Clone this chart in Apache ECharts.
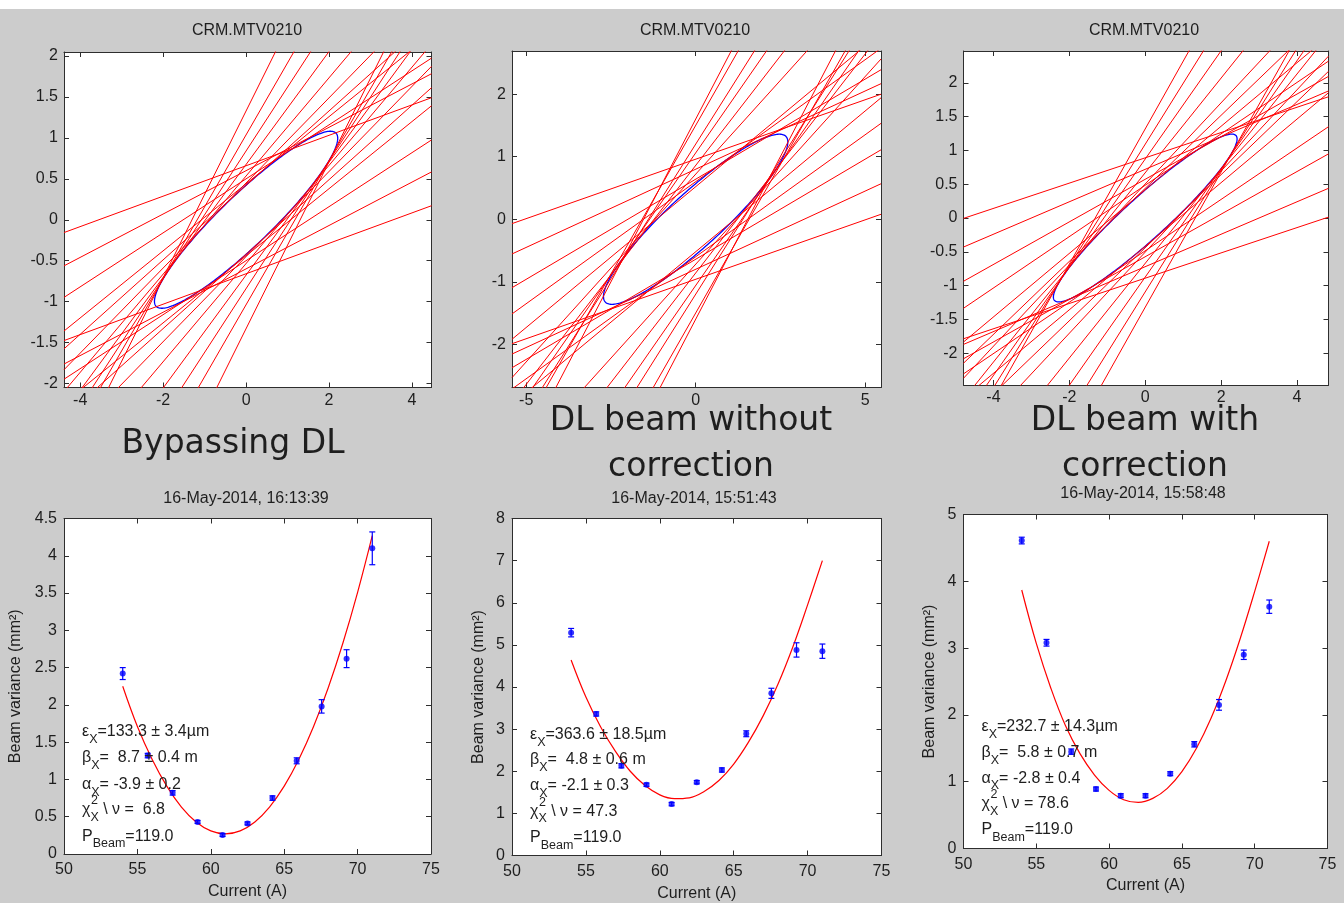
<!DOCTYPE html>
<html>
<head>
<meta charset="utf-8">
<title>Quadrupole scan - phase space</title>
<script src="https://cdn.jsdelivr.net/npm/echarts@6/dist/echarts.min.js"></script>
<style>
  html, body { margin: 0; padding: 0; background: #cccccc; }
  #main { width: 1344px; height: 903px; }
</style>
</head>
<body>
<div id="main"></div>
<script>
// phase space: slope / offset of each measurement line pair, fitted beam matrix [s11, s12, s22]
const slopesBypass = [0.186, 0.265, 0.33, 0.41, 0.455, 0.52, 0.60, 0.69, 0.78, 0.88, 1.02];
const offsetsBypass = [0.66, 0.60, 0.50, 0.44, 0.42, 0.45, 0.535, 0.676, 0.841, 1.038, 1.33];
const sigmaBypass = [4.88, 2.2, 1.17];

const slopesNoCorr = [0.19, 0.25, 0.32, 0.39, 0.45, 0.60, 0.70, 0.78, 0.86, 0.95, 1.04];
const offsetsNoCorr = [0.96, 0.80, 0.64, 0.60, 0.52, 0.72, 0.86, 1.06, 1.20, 1.50, 1.60];
const sigmaNoCorr = [7.4, 3.36, 1.85];

const slopesCorr = [0.187, 0.24, 0.315, 0.38, 0.47, 0.54, 0.60, 0.70, 0.80, 0.90, 1.00];
const offsetsCorr = [0.89, 0.72, 0.573, 0.485, 0.417, 0.439, 0.504, 0.67, 0.873, 1.092, 1.319];
const sigmaCorr = [5.86, 2.83, 1.54];

// quad scans
const currents = [54.0, 55.7, 57.4, 59.1, 60.8, 62.5, 64.2, 65.85, 67.55, 69.25, 71.0];
const varBypass = [2.42, 1.32, 0.82, 0.43, 0.255, 0.41, 0.75, 1.25, 1.98, 2.62, 4.10];
const errBypass = [0.08, 0.03, 0.03, 0.02, 0.02, 0.02, 0.03, 0.04, 0.09, 0.12, 0.22];
const varNoCorr = [5.29, 3.36, 2.13, 1.68, 1.22, 1.74, 2.03, 2.89, 3.85, 4.88, 4.85];
const errNoCorr = [0.10, 0.05, 0.05, 0.04, 0.04, 0.04, 0.05, 0.07, 0.12, 0.17, 0.17];
const varCorr = [4.61, 3.08, 1.45, 0.89, 0.79, 0.79, 1.12, 1.56, 2.15, 2.90, 3.62];
const errCorr = [0.05, 0.05, 0.04, 0.03, 0.03, 0.03, 0.03, 0.04, 0.08, 0.07, 0.10];

const fitCurrents = [54, 55, 56, 57, 58, 59, 60, 61, 62, 63, 64, 65, 66, 67, 68, 69, 70, 71];
const fitBypass = [2.25, 1.71, 1.27, 0.91, 0.63, 0.43, 0.31, 0.27, 0.31, 0.43, 0.63, 0.91, 1.27, 1.71, 2.23, 2.83, 3.51, 4.27];
const fitNoCorr = [4.64, 3.76, 3.05, 2.47, 2.0, 1.66, 1.44, 1.35, 1.37, 1.52, 1.78, 2.17, 2.69, 3.32, 4.07, 4.95, 5.95, 7.0];
const fitCorr = [3.87, 3.07, 2.4, 1.84, 1.42, 1.1, 0.87, 0.73, 0.69, 0.75, 0.9, 1.15, 1.5, 1.95, 2.5, 3.14, 3.85, 4.6];

// tick labels
const ticksX4 = [-4, -2, 0, 2, 4];
const ticksX5 = [-5, 0, 5];
const ticksYHalf = [-2, -1.5, -1, -0.5, 0, 0.5, 1, 1.5, 2];
const ticksYOne = [-2, -1, 0, 1, 2];
const ticksCurrent = [50, 55, 60, 65, 70, 75];
const ticksVarBypass = [0, 0.5, 1, 1.5, 2, 2.5, 3, 3.5, 4, 4.5];
const ticksVarNoCorr = [0, 1, 2, 3, 4, 5, 6, 7, 8];
const ticksVarCorr = [0, 1, 2, 3, 4, 5];

const statsBypass = ['=133.3 ± 3.4µm', '=  8.7 ± 0.4 m', '= -3.9 ± 0.2', ' \\ ν =  6.8', '=119.0'];
const statsNoCorr = ['=363.6 ± 18.5µm', '=  4.8 ± 0.6 m', '= -2.1 ± 0.3', ' \\ ν = 47.3', '=119.0'];
const statsCorr = ['=232.7 ± 14.3µm', '=  5.8 ± 0.7 m', '= -2.8 ± 0.4', ' \\ ν = 78.6', '=119.0'];

const FONT = '"Liberation Sans", Arial, sans-serif';
const INK = '#1e1e1e';
const BOX = '#2e2e2e';

const chart = echarts.init(document.getElementById('main'));

const grids = [];
const xAxes = [];
const yAxes = [];
const series = [];
const graphics = [];

function addPanel(rect, xr, yr, xTicks, yTicks, names) {
  const gi = grids.length;
  grids.push({ ...rect, show: true, backgroundColor: '#ffffff', borderWidth: 0 });
  const line = { show: true, onZero: false, lineStyle: { color: BOX, width: 1 } };
  const tick = (vals) => ({ show: true, inside: true, length: 5, customValues: vals, lineStyle: { color: BOX } });
  const label = (vals, margin) => ({
    customValues: vals, margin, color: INK, fontSize: 16, fontFamily: FONT,
    formatter: v => String(v)
  });
  const nameStyle = { color: INK, fontSize: 16, fontFamily: FONT };
  xAxes.push({
    type: 'value', gridIndex: gi, position: 'bottom', min: xr[0], max: xr[1],
    axisLine: line, axisTick: tick(xTicks), axisLabel: label(xTicks, names ? 8 : 5),
    splitLine: { show: false },
    name: names ? names.x : '', nameLocation: 'middle', nameGap: names ? names.xGap : 0, nameTextStyle: nameStyle
  });
  xAxes.push({
    type: 'value', gridIndex: gi, position: 'top', min: xr[0], max: xr[1],
    axisLine: line, axisTick: tick(xTicks), axisLabel: { show: false }, splitLine: { show: false }
  });
  yAxes.push({
    type: 'value', gridIndex: gi, position: 'left', min: yr[0], max: yr[1],
    axisLine: line, axisTick: tick(yTicks), axisLabel: label(yTicks, names ? 7 : 6),
    splitLine: { show: false },
    name: names ? names.y : '', nameLocation: 'middle', nameGap: names ? names.yGap : 0, nameTextStyle: nameStyle
  });
  yAxes.push({
    type: 'value', gridIndex: gi, position: 'right', min: yr[0], max: yr[1],
    axisLine: line, axisTick: tick(yTicks), axisLabel: { show: false }, splitLine: { show: false }
  });
  return gi;
}

function phaseSpace(gi, xr, slopes, offsets, sigma) {
  series.push({
    type: 'custom', xAxisIndex: 2 * gi, yAxisIndex: 2 * gi, data: [sigma], clip: true, z: 2, silent: true,
    renderItem: (params, api) => {
      const [s11, s12, s22] = sigma;
      const emit = Math.sqrt(s11 * s22 - s12 * s12);
      const a = Math.sqrt(s11);
      const pts = [];
      for (let k = 0; k <= 240; k++) {
        const t = k / 240 * 2 * Math.PI;
        pts.push(api.coord([a * Math.cos(t), (s12 * Math.cos(t) + emit * Math.sin(t)) / a]));
      }
      return { type: 'polyline', shape: { points: pts }, style: { stroke: '#0000ff', lineWidth: 1.3, fill: null } };
    }
  });
  slopes.forEach((m, i) => {
    [1, -1].forEach(sgn => {
      const c = sgn * offsets[i];
      series.push({
        type: 'line', xAxisIndex: 2 * gi, yAxisIndex: 2 * gi, clip: true, z: 3, silent: true,
        symbol: 'none', lineStyle: { color: '#ff0000', width: 1 },
        data: [[xr[0], m * xr[0] + c], [xr[1], m * xr[1] + c]]
      });
    });
  });
}

function quadScan(gi, vals, errs, fit) {
  series.push({
    type: 'line', xAxisIndex: 2 * gi, yAxisIndex: 2 * gi, smooth: 0.4, symbol: 'none', z: 3, silent: true,
    lineStyle: { color: '#ff0000', width: 1.2 },
    data: fitCurrents.map((c, i) => [c, fit[i]])
  });
  series.push({
    type: 'custom', xAxisIndex: 2 * gi, yAxisIndex: 2 * gi, z: 4, silent: true,
    data: currents.map((c, i) => [c, vals[i], errs[i]]),
    renderItem: (params, api) => {
      const x = api.value(0), y = api.value(1), e = api.value(2);
      const top = api.coord([x, y + e]);
      const bot = api.coord([x, y - e]);
      const st = { stroke: '#0000ff', lineWidth: 1.2 };
      return {
        type: 'group', children: [
          { type: 'line', shape: { x1: top[0], y1: top[1], x2: bot[0], y2: bot[1] }, style: st },
          { type: 'line', shape: { x1: top[0] - 3, y1: top[1], x2: top[0] + 3, y2: top[1] }, style: st },
          { type: 'line', shape: { x1: bot[0] - 3, y1: bot[1], x2: bot[0] + 3, y2: bot[1] }, style: st }
        ]
      };
    }
  });
  series.push({
    type: 'scatter', xAxisIndex: 2 * gi, yAxisIndex: 2 * gi, z: 5, silent: true,
    symbol: 'circle', symbolSize: 6, itemStyle: { color: '#0000ff' },
    data: currents.map((c, i) => [c, vals[i]])
  });
}

function text(str, x, y, size, family, align) {
  graphics.push({
    type: 'text', x, y, silent: true,
    style: { text: str, fontSize: size, fontFamily: family, fill: INK, align: align || 'center', verticalAlign: 'middle' }
  });
}

function statBlock(x, ys, vals) {
  const heads = [['ε', 'X'], ['β', 'X'], ['α', 'X'], ['χ', 'X'], ['P', 'Beam']];
  const rich = {
    m: { fontSize: 16, fontFamily: FONT, fill: INK, verticalAlign: 'middle' },
    s: { fontSize: 12.5, fontFamily: FONT, fill: INK, verticalAlign: 'middle', padding: [15, 0, 0, 0] }
  };
  heads.forEach((h, i) => {
    graphics.push({
      type: 'text', x, y: ys[i], silent: true, z: 10,
      style: { text: `{m|${h[0]}}{s|${h[1]}}{m|${vals[i]}}`, rich, align: 'left', verticalAlign: 'middle' }
    });
  });
  graphics.push({
    type: 'text', x: x + 9, y: ys[3] - 9, silent: true, z: 10,
    style: { text: '2', fontSize: 12.5, fontFamily: FONT, fill: INK, align: 'left', verticalAlign: 'middle' }
  });
}

// top row: phase space
const xr1 = [-4.39, 4.47], xr2 = [-5.42, 5.47], xr3 = [-4.79, 4.83];
const g1 = addPanel({ left: 64, top: 52, width: 367.5, height: 335.5 }, xr1, [-2.05, 2.05], ticksX4, ticksYHalf);
const g2 = addPanel({ left: 512, top: 51, width: 369, height: 336.5 }, xr2, [-2.69, 2.69], ticksX5, ticksYOne);
const g3 = addPanel({ left: 963.5, top: 51, width: 365, height: 334 }, xr3, [-2.47, 2.47], ticksX4, ticksYHalf);
phaseSpace(g1, xr1, slopesBypass, offsetsBypass, sigmaBypass);
phaseSpace(g2, xr2, slopesNoCorr, offsetsNoCorr, sigmaNoCorr);
phaseSpace(g3, xr3, slopesCorr, offsetsCorr, sigmaCorr);

// bottom row: quad scans
const yName = 'Beam variance (mm²)';
const g4 = addPanel({ left: 64, top: 518.5, width: 367, height: 335.5 }, [50, 75], [0, 4.5], ticksCurrent, ticksVarBypass,
  { x: 'Current (A)', xGap: 30, y: yName, yGap: 40 });
const g5 = addPanel({ left: 512, top: 518.5, width: 369.5, height: 337 }, [50, 75], [0, 8], ticksCurrent, ticksVarNoCorr,
  { x: 'Current (A)', xGap: 30, y: yName, yGap: 25 });
const g6 = addPanel({ left: 963.5, top: 514.5, width: 364, height: 334 }, [50, 75], [0, 5], ticksCurrent, ticksVarCorr,
  { x: 'Current (A)', xGap: 29, y: yName, yGap: 26 });
quadScan(g4, varBypass, errBypass, fitBypass);
quadScan(g5, varNoCorr, errNoCorr, fitNoCorr);
quadScan(g6, varCorr, errCorr, fitCorr);

// texts
graphics.push({ type: 'rect', shape: { x: 0, y: 0, width: 1344, height: 9 }, style: { fill: '#ffffff' }, silent: true });
text('CRM.MTV0210', 247, 31, 16, FONT);
text('CRM.MTV0210', 695, 31, 16, FONT);
text('CRM.MTV0210', 1144, 31, 16, FONT);
text('Bypassing DL', 233, 444, 33, '"DejaVu Sans", sans-serif');
text('DL beam without', 691, 421, 33, '"DejaVu Sans", sans-serif');
text('correction', 691, 467, 33, '"DejaVu Sans", sans-serif');
text('DL beam with', 1145, 421, 33, '"DejaVu Sans", sans-serif');
text('correction', 1145, 467, 33, '"DejaVu Sans", sans-serif');
text('16-May-2014, 16:13:39', 246, 499, 16, FONT);
text('16-May-2014, 15:51:43', 694, 499, 16, FONT);
text('16-May-2014, 15:58:48', 1143, 494, 16, FONT);
statBlock(82, [732, 758, 785, 810, 836.5], statsBypass);
statBlock(530, [735, 760, 786, 811.5, 838], statsNoCorr);
statBlock(981.5, [727, 753, 778.5, 804, 830], statsCorr);

chart.setOption({
  backgroundColor: '#cccccc',
  animation: false,
  grid: grids,
  xAxis: xAxes,
  yAxis: yAxes,
  series,
  graphic: graphics
});
</script>
</body>
</html>
